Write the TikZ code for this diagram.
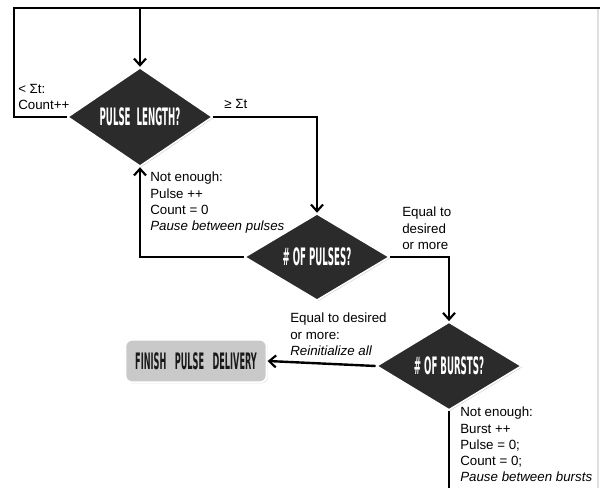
\documentclass[tikz,border=0pt]{standalone}
\usepackage{fontspec}
\setmainfont{Liberation Sans}
\newfontfamily\headfont{DejaVu Sans Condensed Bold}
\usetikzlibrary{shapes.geometric,arrows.meta,shadows}
\definecolor{diafill}{HTML}{2B2B2B}
\definecolor{boxfill}{HTML}{C9C9C9}
\newcommand{\cond}[1]{\scalebox{0.4}[1]{#1}}
\tikzset{
  decision/.style={diamond, fill=diafill, draw=white, line width=1.2pt,
    minimum width=109pt, minimum height=61pt, inner sep=0pt, text=white,
    font=\fontsize{18}{18}\headfont,
    drop shadow={opacity=0.35, shadow xshift=0.8pt, shadow yshift=-0.8pt}},
  finishbox/.style={rectangle, rounded corners=5pt, fill=boxfill, draw=white,
    line width=1.5pt, minimum width=106pt, minimum height=32pt, inner sep=0pt,
    text=black!90, font=\fontsize{17}{17}\headfont,
    drop shadow={opacity=0.35, shadow xshift=0.8pt, shadow yshift=-0.8pt}},
  lbl/.style={anchor=north west, inner sep=0pt, align=left,
    font=\fontsize{10}{12.2}\selectfont},
  flow/.style={line width=1.8pt, -{Straight Barb[length=5pt,width=9pt,line width=1.6pt]}},
  plain/.style={line width=1.8pt}
}
\begin{document}
\begin{tikzpicture}[x=0.75pt,y=-0.75pt]
\useasboundingbox (0,0) rectangle (600,488);
% decisions and end box
\node[decision] (len) at (140,117) {\cond{PULSE\ \ LENGTH?}};
\node[decision] (pul) at (317,257) {\cond{\#\ OF\ PULSES?}};
\node[decision] (bur) at (449,366) {\cond{\#\ OF\ BURSTS?}};
\node[finishbox] (fin) at (196,361) {\cond{FINISH\ \ \ PULSE\ \ \ DELIVERY}};
% frame points
\coordinate (topL) at (14,8);
\coordinate (topR) at (600,8);
\coordinate (bot) at (449,488);
\draw[gray!25, line width=0.8pt] (598,8) -- (598,488);
% connectors
\draw[plain] (len.west) -| (topL) -- (topR);
\draw[flow] (len.north |- topL) -- (len.north);
\draw[flow] (len.east) -| (pul.north);
\draw[flow] (pul.west) -| (len.south);
\draw[flow] (pul.east) -| (bur.north);
\draw[flow] (bur.west) -- (fin.east);
\draw[plain] (bur.south) -- (bot);
% labels
\node[lbl] (l1) at (18,84) {< Σt:\\Count++};
\node[lbl] (l2) at (224,99) {≥ Σt};
\node[lbl] (l3) at (150,172) {Not enough:\\Pulse ++\\Count = 0\\\textit{Pause between pulses}};
\node[lbl] (l4) at (402,207) {Equal to\\desired\\or more};
\node[lbl] (l5) at (290,313) {Equal to desired\\or more:\\\textit{Reinitialize all}};
\node[lbl] (l6) at (460,407) {Not enough:\\Burst ++\\Pulse = 0;\\Count = 0;\\\textit{Pause between bursts}};
\end{tikzpicture}
\end{document}
